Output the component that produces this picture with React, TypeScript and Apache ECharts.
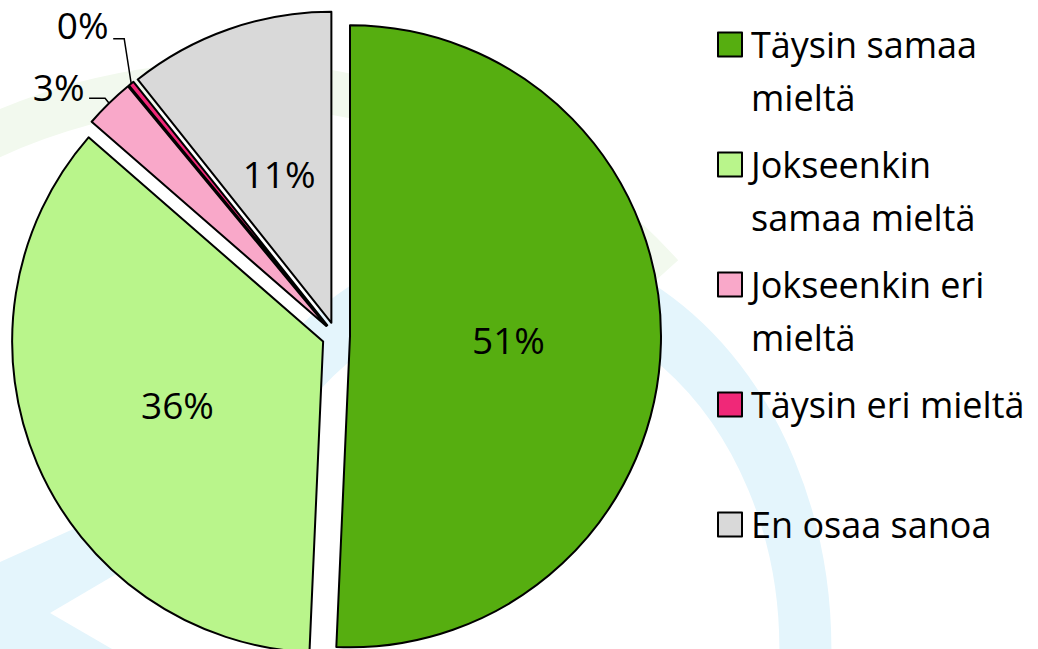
import React, { useEffect, useRef } from "react";
import * as echarts from "echarts";

const categories = [
  "Täysin samaa mieltä",
  "Jokseenkin samaa mieltä",
  "Jokseenkin eri mieltä",
  "Täysin eri mieltä",
  "En osaa sanoa",
];
const values = [50.7, 35.7, 2.6, 0.3, 10.7];
const legendLines = [
  ["Täysin samaa", "mieltä"],
  ["Jokseenkin", "samaa mieltä"],
  ["Jokseenkin eri", "mieltä"],
  ["Täysin eri mieltä", ""],
  ["En osaa sanoa", ""],
];
const colors = ["#56AE10", "#B9F58B", "#F9A8C9", "#F02878", "#D9D9D9"];
const outsideLabelIdx = [2, 3];

const FONT = '"Open Sans", sans-serif';
const deg = (d: number) => (d * Math.PI) / 180;

export default function App() {
  const ref = useRef<HTMLDivElement>(null);
  useEffect(() => {
    if (!ref.current) return;
    const chart = echarts.init(ref.current, null, { renderer: "svg" });
    const option: any = {
      animation: false,
      backgroundColor: "#ffffff",
      graphic: [
        {
          type: "arc",
          silent: true,
          z: -10,
          shape: { cx: 233, cy: 661, r: 577, startAngle: deg(-125), endAngle: deg(-42) },
          style: { stroke: "#F2F9EE", lineWidth: 44, fill: null },
        },
        {
          type: "arc",
          silent: true,
          z: -9,
          x: 503,
          y: 649,
          scaleX: 0.8,
          scaleY: 1,
          shape: { cx: 0, cy: 0, r: 378, startAngle: deg(-145), endAngle: deg(90) },
          style: { stroke: "#E4F5FC", lineWidth: 65, fill: null, strokeNoScale: true },
        },
        {
          type: "polygon",
          silent: true,
          z: -9,
          shape: {
            points: [
              [0, 562], [80, 526], [175, 470], [200, 505],
              [118, 573], [50, 613], [112, 649], [0, 649],
            ],
          },
          style: { fill: "#E4F5FC" },
        },
      ],
      legend: {
        orient: "vertical",
        left: 717,
        top: -35,
        padding: 0,
        itemWidth: 24,
        itemHeight: 24,
        itemGap: -39,
        icon: "rect",
        itemStyle: { borderColor: "#000", borderWidth: 2 },
        data: categories,
        formatter: (name: string) => "\n" + legendLines[categories.indexOf(name)].join("\n"),
        textStyle: {
          fontFamily: FONT,
          fontSize: 36,
          lineHeight: 53,
          color: "#000",
          padding: [0, 0, 0, 4],
        },
      },
      series: [
        {
          type: "pie",
          center: [336, 336],
          radius: 311,
          startAngle: 90,
          clockwise: true,
          selectedMode: "multiple",
          selectedOffset: 14,
          avoidLabelOverlap: false,
          itemStyle: { borderColor: "#000", borderWidth: 2 },
          select: { itemStyle: { borderColor: "#000", borderWidth: 2 } },
          emphasis: { scale: false },
          label: {
            show: true,
            position: "inside",
            formatter: (p: any) => {
              const t = Math.round(p.value) + "%";
              if (p.dataIndex === 3) return t + "\n\n";
              if (p.dataIndex === 2) return t + "\n";
              return t;
            },
            fontFamily: FONT,
            fontSize: 37,
            color: "#000",
          },
          labelLine: { show: false, length: 5, length2: 16, lineStyle: { color: "#000", width: 1.5 } },
          labelLayout: (p: any) => {
            if (!outsideLabelIdx.includes(p.dataIndex)) return {};
            const pts = p.labelLinePoints;
            if (!pts) return {};
            const [x0, y0] = pts[0];
            const isZero = p.dataIndex === 3;
            const run = isZero ? 7 : 4;
            const rise = isZero ? 45 : 5;
            const tail = isZero ? 11 : 16;
            const p1 = [x0 - run, y0 - rise];
            const p2 = [p1[0] - tail, p1[1]];
            return { labelLinePoints: [[x0, y0], p1, p2] };
          },
          data: categories.map((name, i) => {
            const isOut = outsideLabelIdx.includes(i);
            const isZero = i === 3;
            return {
              name,
              value: values[i],
              selected: true,
              itemStyle: { color: colors[i] },
              label: isOut
                ? { position: "outside", lineHeight: isZero ? 44 : 26 }
                : undefined,
              labelLine: isOut
                ? { show: true, length: isZero ? 20 : 5, length2: isZero ? 5 : 16 }
                : { show: false },
            };
          }),
        },
      ],
    };
    chart.setOption(option);
    return () => chart.dispose();
  }, []);
  return (
    <div
      ref={ref}
      style={{ position: "fixed", left: 0, top: 0, width: 1038, height: 649 }}
    />
  );
}
